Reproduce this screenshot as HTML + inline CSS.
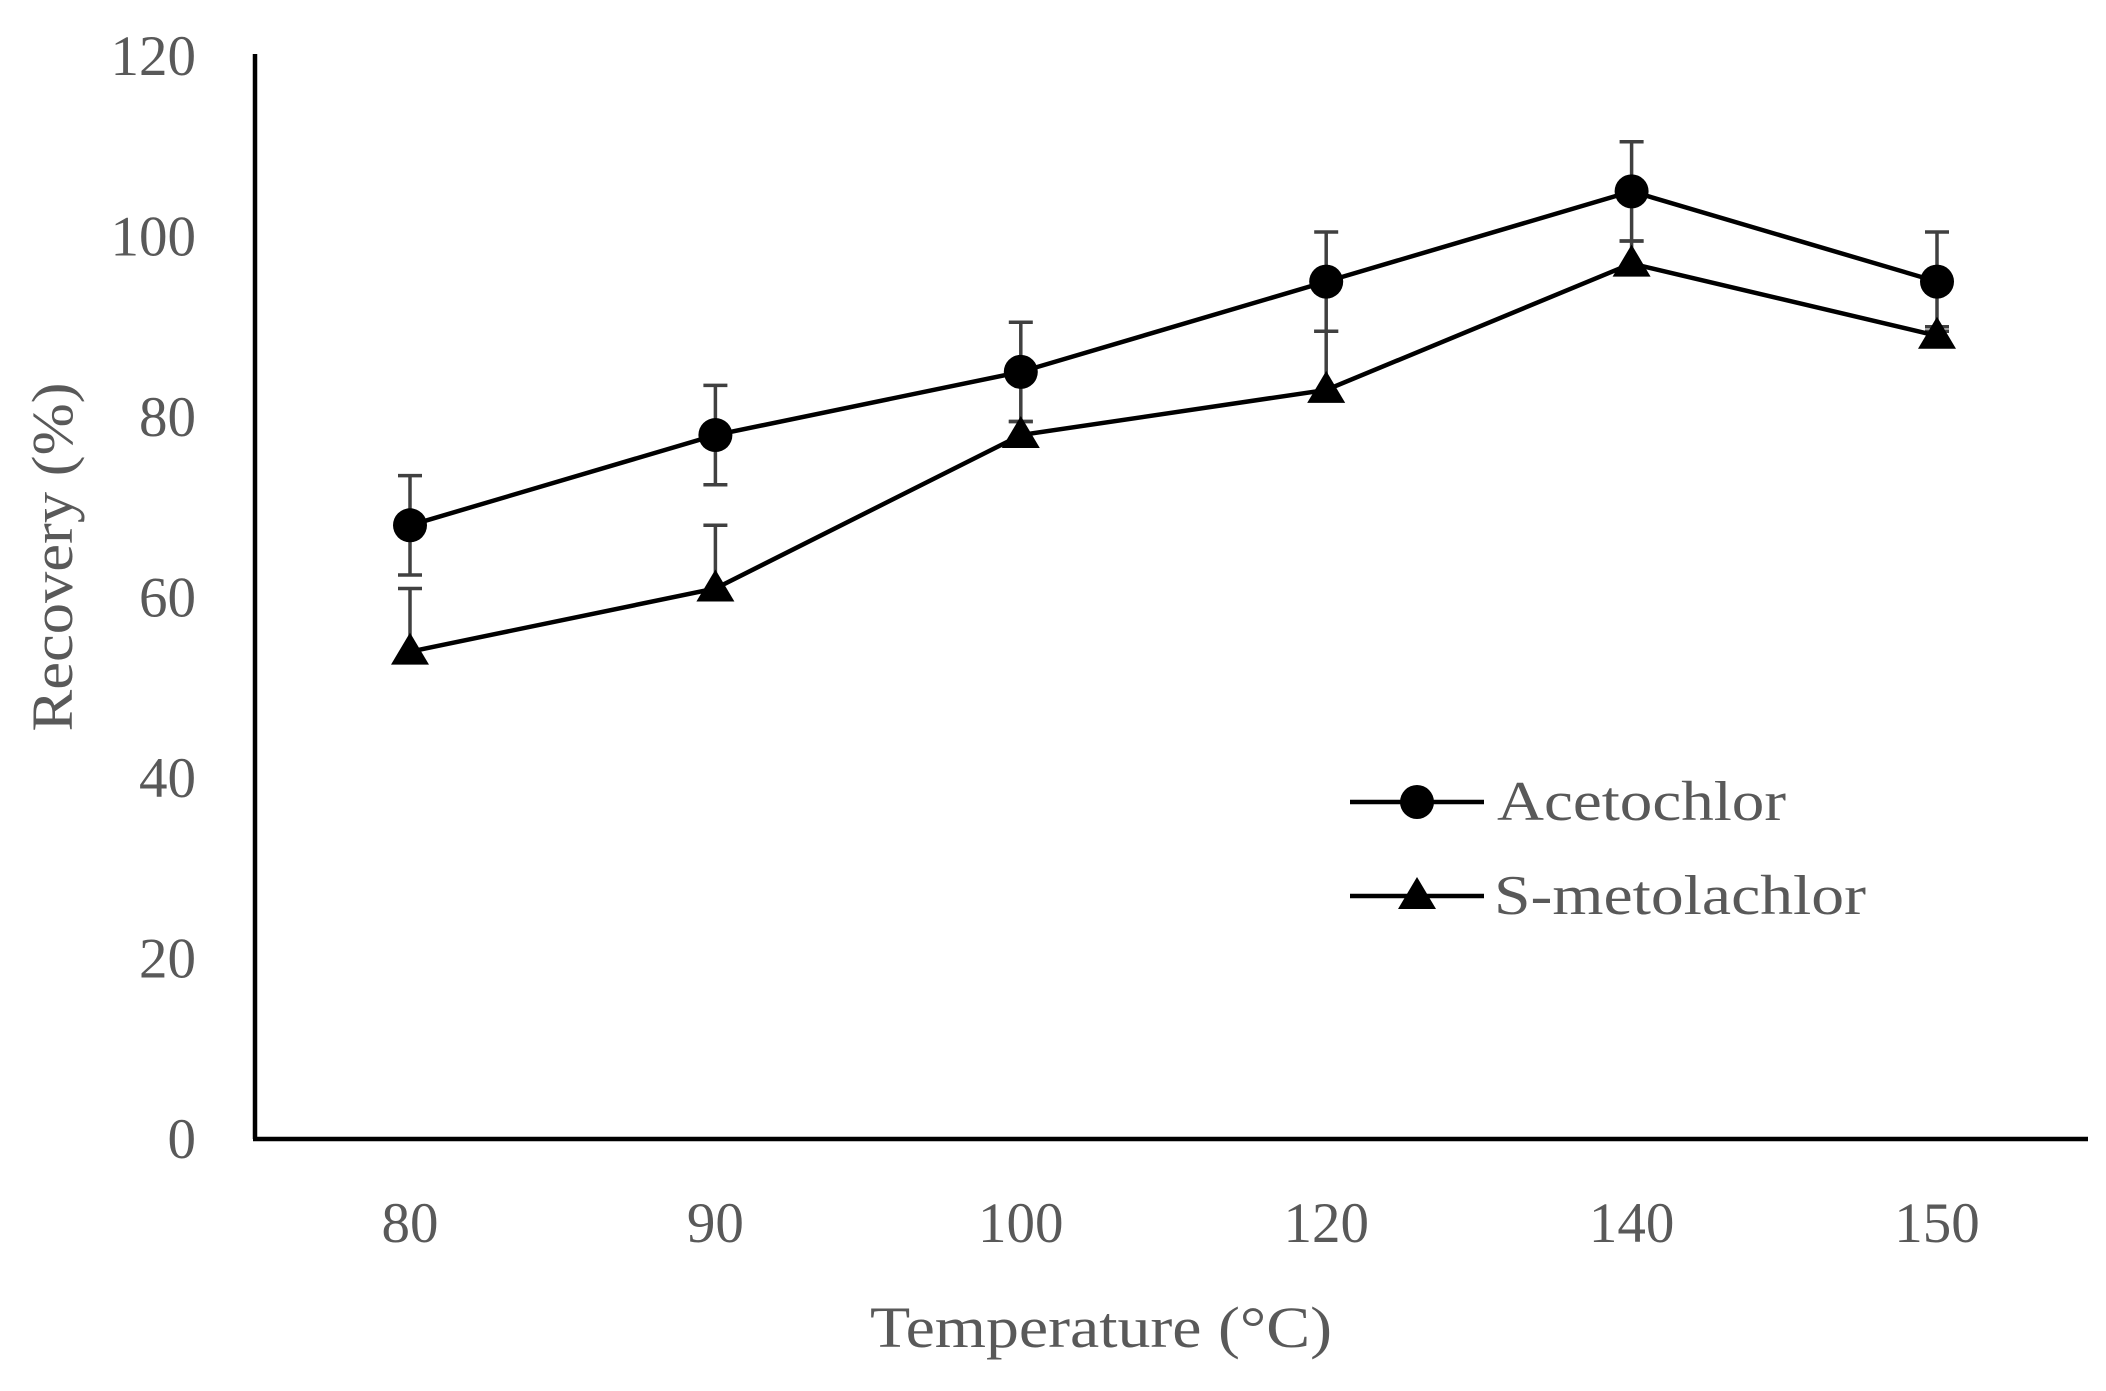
<!DOCTYPE html>
<html><head><meta charset="utf-8"><style>
html,body{margin:0;padding:0;background:#fff}
svg{display:block}
text{font-family:"Liberation Serif",serif;fill:#595959}
</style></head><body>
<svg id="chart" width="2106" height="1391" viewBox="0 0 2106 1391">
<g id="axes"></g><g id="marks"></g>
<g>
 <g>
  <line x1="1350" y1="802" x2="1484" y2="802" stroke="#000" stroke-width="4.5"/>
  <circle cx="1417" cy="802" r="17" fill="#000"/>
  <text x="1497" y="820" font-size="56" textLength="289" lengthAdjust="spacingAndGlyphs">Acetochlor</text>
 </g>
 <g>
  <line x1="1350" y1="896" x2="1484" y2="896" stroke="#000" stroke-width="4.5"/>
  <polygon points="1417,877 1436,909 1398,909" fill="#000"/>
  <text x="1494" y="914" font-size="56" textLength="372" lengthAdjust="spacingAndGlyphs">S-metolachlor</text>
 </g>
</g>
<text x="1101" y="1347" font-size="58" text-anchor="middle" textLength="462" lengthAdjust="spacingAndGlyphs">Temperature (°C)</text>
<text transform="translate(72,557) rotate(-90)" font-size="58" text-anchor="middle" textLength="349" lengthAdjust="spacingAndGlyphs">Recovery (%)</text>
</svg>
<script>
const categories=["80","90","100","120","140","150"];
const acetochlor=[68,78,85,95,105,95];
const acetochlorErr=[5.5,5.5,5.5,5.5,5.5,5.5];
const smetolachlor=[54,61,78,83,97,89];
const smetolachlorErr=[7,7,1.5,6.5,2.5,1];
const yTicks=[0,20,40,60,80,100,120];
const NS="http://www.w3.org/2000/svg";
const x0=255,xEnd=2088,y0=1139,yTop=56,yMax=120;
function xPos(i){return 410+i*305.4;}
function yPos(v){return y0-(v/yMax)*(y0-yTop);}
function mk(tag,attrs,parent){const e=document.createElementNS(NS,tag);for(const k in attrs)e.setAttribute(k,attrs[k]);parent.appendChild(e);return e;}
const axes=document.getElementById('axes'),marks=document.getElementById('marks');
let ya=mk('line',{x1:x0,y1:yTop-2,x2:x0,y2:y0,stroke:'#000','stroke-width':4.5},axes);


let xa=mk('line',{x1:x0-2,y1:y0,x2:xEnd,y2:y0,stroke:'#000','stroke-width':4.5},axes);


yTicks.forEach(v=>{const t=mk('text',{x:196,y:yPos(v)+19,'font-size':57,'text-anchor':'end'},axes);t.textContent=v;

});
categories.forEach((c,i)=>{const t=mk('text',{x:xPos(i),y:1242,'font-size':57,'text-anchor':'middle'},axes);t.textContent=c;

});
function errBar(i,v,e,both){const x=xPos(i),yt=yPos(v+e),yb=both?yPos(v-e):yPos(v);
const g=mk('g',{stroke:'#404040','stroke-width':3.5},marks);


mk('line',{x1:x,y1:yt,x2:x,y2:yb},g);mk('line',{x1:x-12,y1:yt,x2:x+12,y2:yt},g);
if(both)mk('line',{x1:x-12,y1:yb,x2:x+12,y2:yb},g);}
acetochlor.forEach((v,i)=>errBar(i,v,acetochlorErr[i],true));
smetolachlor.forEach((v,i)=>errBar(i,v,smetolachlorErr[i],false));
function line(vals,name){const p=mk('polyline',{points:vals.map((v,i)=>xPos(i)+','+yPos(v)).join(' '),fill:'none',stroke:'#000','stroke-width':4.5},marks);

}
line(acetochlor,'acetochlor-line');
line(smetolachlor,'s-metolachlor-line');
acetochlor.forEach((v,i)=>{const c=mk('circle',{cx:xPos(i),cy:yPos(v),r:17,fill:'#000'},marks);

});
smetolachlor.forEach((v,i)=>{const x=xPos(i),y=yPos(v);const p=mk('polygon',{points:`${x},${y-19} ${x+19},${y+13} ${x-19},${y+13}`,fill:'#000'},marks);

});
</script>
</body></html>
